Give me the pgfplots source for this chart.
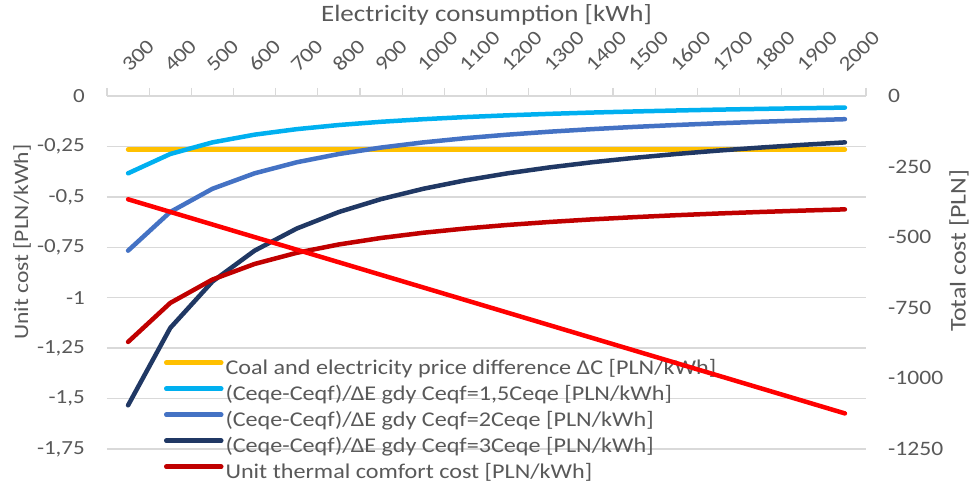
\documentclass[border=0pt]{standalone}
\usepackage{pgfplots}
\usepackage{pgfplotstable}
\pgfplotsset{compat=1.18}
\usepackage{fontspec}
\setmainfont{Carlito}[FakeStretch=1.15]
\definecolor{cYel}{HTML}{FFC000}
\definecolor{cCya}{HTML}{00B0F0}
\definecolor{cBlu}{HTML}{4472C4}
\definecolor{cNav}{HTML}{203864}
\definecolor{cDre}{HTML}{C00000}
\definecolor{cRed}{HTML}{FF0000}
\definecolor{gridgray}{HTML}{D9D9D9}
\definecolor{txtgray}{HTML}{595959}
\newcommand\rl[1]{\rotatebox{45}{\smash{\rlap{#1}}}}

\pgfplotstableread{
x  yel    cya     blu     nav     dre     red
0  -0.265 -0.3833 -0.7667 -1.5333 -1.2193 -365.8
1  -0.265 -0.2875 -0.5750 -1.1500 -1.0260 -410.4
2  -0.265 -0.2300 -0.4600 -0.9200 -0.9100 -455.0
3  -0.265 -0.1917 -0.3833 -0.7667 -0.8327 -499.6
4  -0.265 -0.1643 -0.3286 -0.6571 -0.7774 -544.2
5  -0.265 -0.1438 -0.2875 -0.5750 -0.7360 -588.8
6  -0.265 -0.1278 -0.2556 -0.5111 -0.7038 -633.4
7  -0.265 -0.1150 -0.2300 -0.4600 -0.6780 -678.0
8  -0.265 -0.1045 -0.2091 -0.4182 -0.6569 -722.6
9  -0.265 -0.0958 -0.1917 -0.3833 -0.6393 -767.2
10 -0.265 -0.0885 -0.1769 -0.3538 -0.6245 -811.8
11 -0.265 -0.0821 -0.1643 -0.3286 -0.6117 -856.4
12 -0.265 -0.0767 -0.1533 -0.3067 -0.6007 -901.0
13 -0.265 -0.0719 -0.1438 -0.2875 -0.5910 -945.6
14 -0.265 -0.0676 -0.1353 -0.2706 -0.5825 -990.2
15 -0.265 -0.0639 -0.1278 -0.2556 -0.5749 -1034.8
16 -0.265 -0.0605 -0.1211 -0.2421 -0.5681 -1079.4
17 -0.265 -0.0575 -0.1150 -0.2300 -0.5620 -1124.0
}\data

\begin{document}
\begin{tikzpicture}[font=\fontsize{20bp}{24bp}\selectfont]
\begin{axis}[
  scale only axis, width=759bp, height=353bp,
  xmin=-0.5, xmax=17.5, ymin=-1.75, ymax=0,
  axis x line*=top, axis y line*=left,
  y axis line style={draw=none},
  x axis line style={draw=gridgray, line width=1.3bp},
  xtick={0,...,17},
  xticklabels={\rl{300},\rl{400},\rl{500},\rl{600},\rl{700},\rl{800},\rl{900},\rl{1000},\rl{1100},\rl{1200},\rl{1300},\rl{1400},\rl{1500},\rl{1600},\rl{1700},\rl{1800},\rl{1900},\rl{2000}},
  minor xtick={-0.5,0.5,...,17.5},
  tick align=outside,
  major tick length=0pt, minor tick length=8bp,
  minor tick style={draw=gridgray, line width=1.3bp},
  ytick={-1.75,-1.5,-1.25,-1,-0.75,-0.5,-0.25,0},
  yticklabels={{-1,75},{-1,5},{-1,25},{-1},{-0,75},{-0,5},{-0,25},{0}},
  ymajorgrids,
  major grid style={draw=gridgray, line width=1.3bp},
  xticklabel style={font=\fontsize{20.5bp}{24bp}\selectfont, anchor=base, inner sep=0pt, xshift=2bp, yshift=23bp, text=txtgray},
  yticklabel style={text=txtgray, anchor=east, inner sep=0pt, xshift=-22bp},
  xlabel={Electricity consumption [kWh]},
  xlabel style={font=\fontsize{23.5bp}{28bp}\selectfont, at={(axis description cs:0.5,1)}, anchor=base, yshift=74bp, text=txtgray},
  ylabel={Unit cost [PLN/kWh]},
  ylabel style={font=\fontsize{20.5bp}{24bp}\selectfont, at={(axis description cs:-0.112,0.586)}, anchor=center, text=txtgray},
  legend style={draw=none, fill=none, inner sep=0pt, outer sep=0pt,
    at={(axis description cs:0.0751,0.2575)}, anchor=north west,
    row sep=5bp, font=\fontsize{21bp}{25bp}\selectfont,
    nodes={inner xsep=2bp, inner ysep=0pt, text height=16bp, text depth=5bp, text=txtgray}},
  legend cell align=left,
  legend image code/.code={\draw[#1, line width=4.5bp, line cap=round] (0bp,6bp) -- (55bp,6bp);},
  every axis plot/.append style={line width=4.5bp, line cap=round, line join=round},
]
\coordinate (bl) at (rel axis cs:0,0);
\coordinate (tr) at (rel axis cs:1,1);
\addplot[cYel] table[x=x, y=yel] {\data};
\addlegendentry{Coal and electricity price difference ΔC [PLN/kWh]}
\addplot[cCya] table[x=x, y=cya] {\data};
\addlegendentry{(Ceqe-Ceqf)/ΔE gdy Ceqf=1,5Ceqe [PLN/kWh]}
\addplot[cBlu] table[x=x, y=blu] {\data};
\addlegendentry{(Ceqe-Ceqf)/ΔE gdy Ceqf=2Ceqe [PLN/kWh]}
\addplot[cNav] table[x=x, y=nav] {\data};
\addlegendentry{(Ceqe-Ceqf)/ΔE gdy Ceqf=3Ceqe [PLN/kWh]}
\addplot[cDre] table[x=x, y=dre] {\data};
\addlegendentry{Unit thermal comfort cost [PLN/kWh]}
\end{axis}
\begin{axis}[
  scale only axis, width=759bp, height=353bp,
  xmin=-0.5, xmax=17.5, ymin=-1250, ymax=0,
  axis x line=none, axis y line*=right,
  y axis line style={draw=none},
  major tick length=0pt,
  ytick={-1250,-1000,-750,-500,-250,0},
  yticklabels={{-1250},{-1000},{-750},{-500},{-250},{0}},
  yticklabel style={font=\fontsize{20.5bp}{24bp}\selectfont, text=txtgray, anchor=west, inner sep=0pt, xshift=22bp},
  ylabel={Total cost [PLN]},
  ylabel style={font=\fontsize{22.5bp}{27bp}\selectfont, at={(axis description cs:1.1225,0.561)}, anchor=center, text=txtgray},
  every axis plot/.append style={line width=4.5bp, line cap=round, line join=round},
]
\addplot[cRed] table[x=x, y=red] {\data};
\end{axis}
\pgfresetboundingbox
\path ([xshift=-107bp,yshift=-36bp]bl) rectangle ([xshift=112bp,yshift=96bp]tr);
\end{tikzpicture}
\end{document}
